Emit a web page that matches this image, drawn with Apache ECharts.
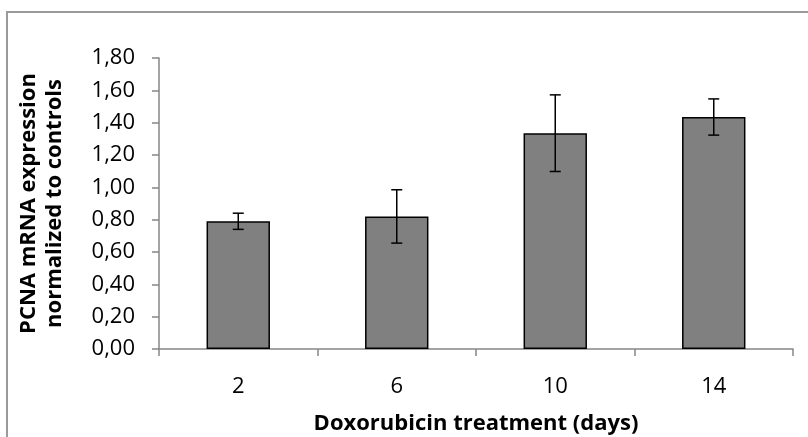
<!DOCTYPE html>
<html>
<head>
<meta charset="utf-8">
<script src="https://cdn.jsdelivr.net/npm/echarts@6/dist/echarts.min.js"></script>
<style>
html,body{margin:0;padding:0;background:#fff;}
#chart{width:808px;height:437px;}
</style>
</head>
<body>
<div id="chart"></div>
<script>
const categories = ['2', '6', '10', '14'];
const means = [0.79, 0.82, 1.335, 1.435];
const errors = [0.05, 0.165, 0.237, 0.112];
const yTicks = [0, 0.2, 0.4, 0.6, 0.8, 1.0, 1.2, 1.4, 1.6, 1.8];

const chart = echarts.init(document.getElementById('chart'), null, {renderer: 'canvas'});
const errData = categories.map((c, i) => [i, means[i] - errors[i], means[i] + errors[i]]);

chart.setOption({
  animation: false,
  backgroundColor: '#ffffff',
  grid: {left: 159, right: 15, top: 58, bottom: 88, containLabel: false, outerBoundsMode: 'none'},
  graphic: [{
    type: 'rect',
    shape: {x: 7, y: 12, width: 1000, height: 1000},
    style: {fill: 'none', stroke: '#9a9a9a', lineWidth: 2},
    silent: true
  }],
  xAxis: {
    type: 'category',
    data: categories,
    name: 'Doxorubicin treatment (days)',
    nameLocation: 'middle',
    nameGap: 64,
    nameTextStyle: {fontFamily: 'Open Sans', fontWeight: 'bold', fontSize: 22, color: '#000'},
    axisLine: {lineStyle: {color: '#868686', width: 1.5}},
    axisTick: {show: true, alignWithLabel: false, length: 7, lineStyle: {color: '#868686', width: 1.5}},
    axisLabel: {fontFamily: 'Open Sans', fontSize: 22, color: '#000', margin: 27},
    splitLine: {show: false}
  },
  yAxis: {
    type: 'value',
    min: 0,
    max: 1.8,
    interval: 0.2,
    name: 'PCNA mRNA expression\nnormalized to controls',
    nameLocation: 'middle',
    nameGap: 91,
    nameTextStyle: {fontFamily: 'Open Sans', fontWeight: 'bold', fontSize: 22, color: '#000', lineHeight: 26},
    axisLine: {show: true, lineStyle: {color: '#868686', width: 1.5}},
    axisTick: {show: true, length: 7, lineStyle: {color: '#868686', width: 1.5}},
    axisLabel: {
      fontFamily: 'Open Sans', fontSize: 22, color: '#000', margin: 24,
      formatter: v => v.toFixed(2).replace('.', ',')
    },
    splitLine: {show: false}
  },
  series: [{
    type: 'bar',
    data: means,
    barWidth: '40%',
    itemStyle: {color: '#808080', borderColor: '#000', borderWidth: 1.5},
    silent: true
  }, {
    type: 'custom',
    data: errData,
    silent: true,
    z: 10,
    renderItem: function (params, api) {
      const x = api.value(0);
      const lo = api.coord([x, api.value(1)]);
      const hi = api.coord([x, api.value(2)]);
      const hw = 5.5;
      const style = {stroke: '#000', lineWidth: 1.5};
      return {
        type: 'group',
        children: [
          {type: 'line', shape: {x1: hi[0], y1: hi[1], x2: lo[0], y2: lo[1]}, style: style},
          {type: 'line', shape: {x1: hi[0] - hw, y1: hi[1], x2: hi[0] + hw, y2: hi[1]}, style: style},
          {type: 'line', shape: {x1: lo[0] - hw, y1: lo[1], x2: lo[0] + hw, y2: lo[1]}, style: style}
        ]
      };
    }
  }]
});
</script>
</body>
</html>
